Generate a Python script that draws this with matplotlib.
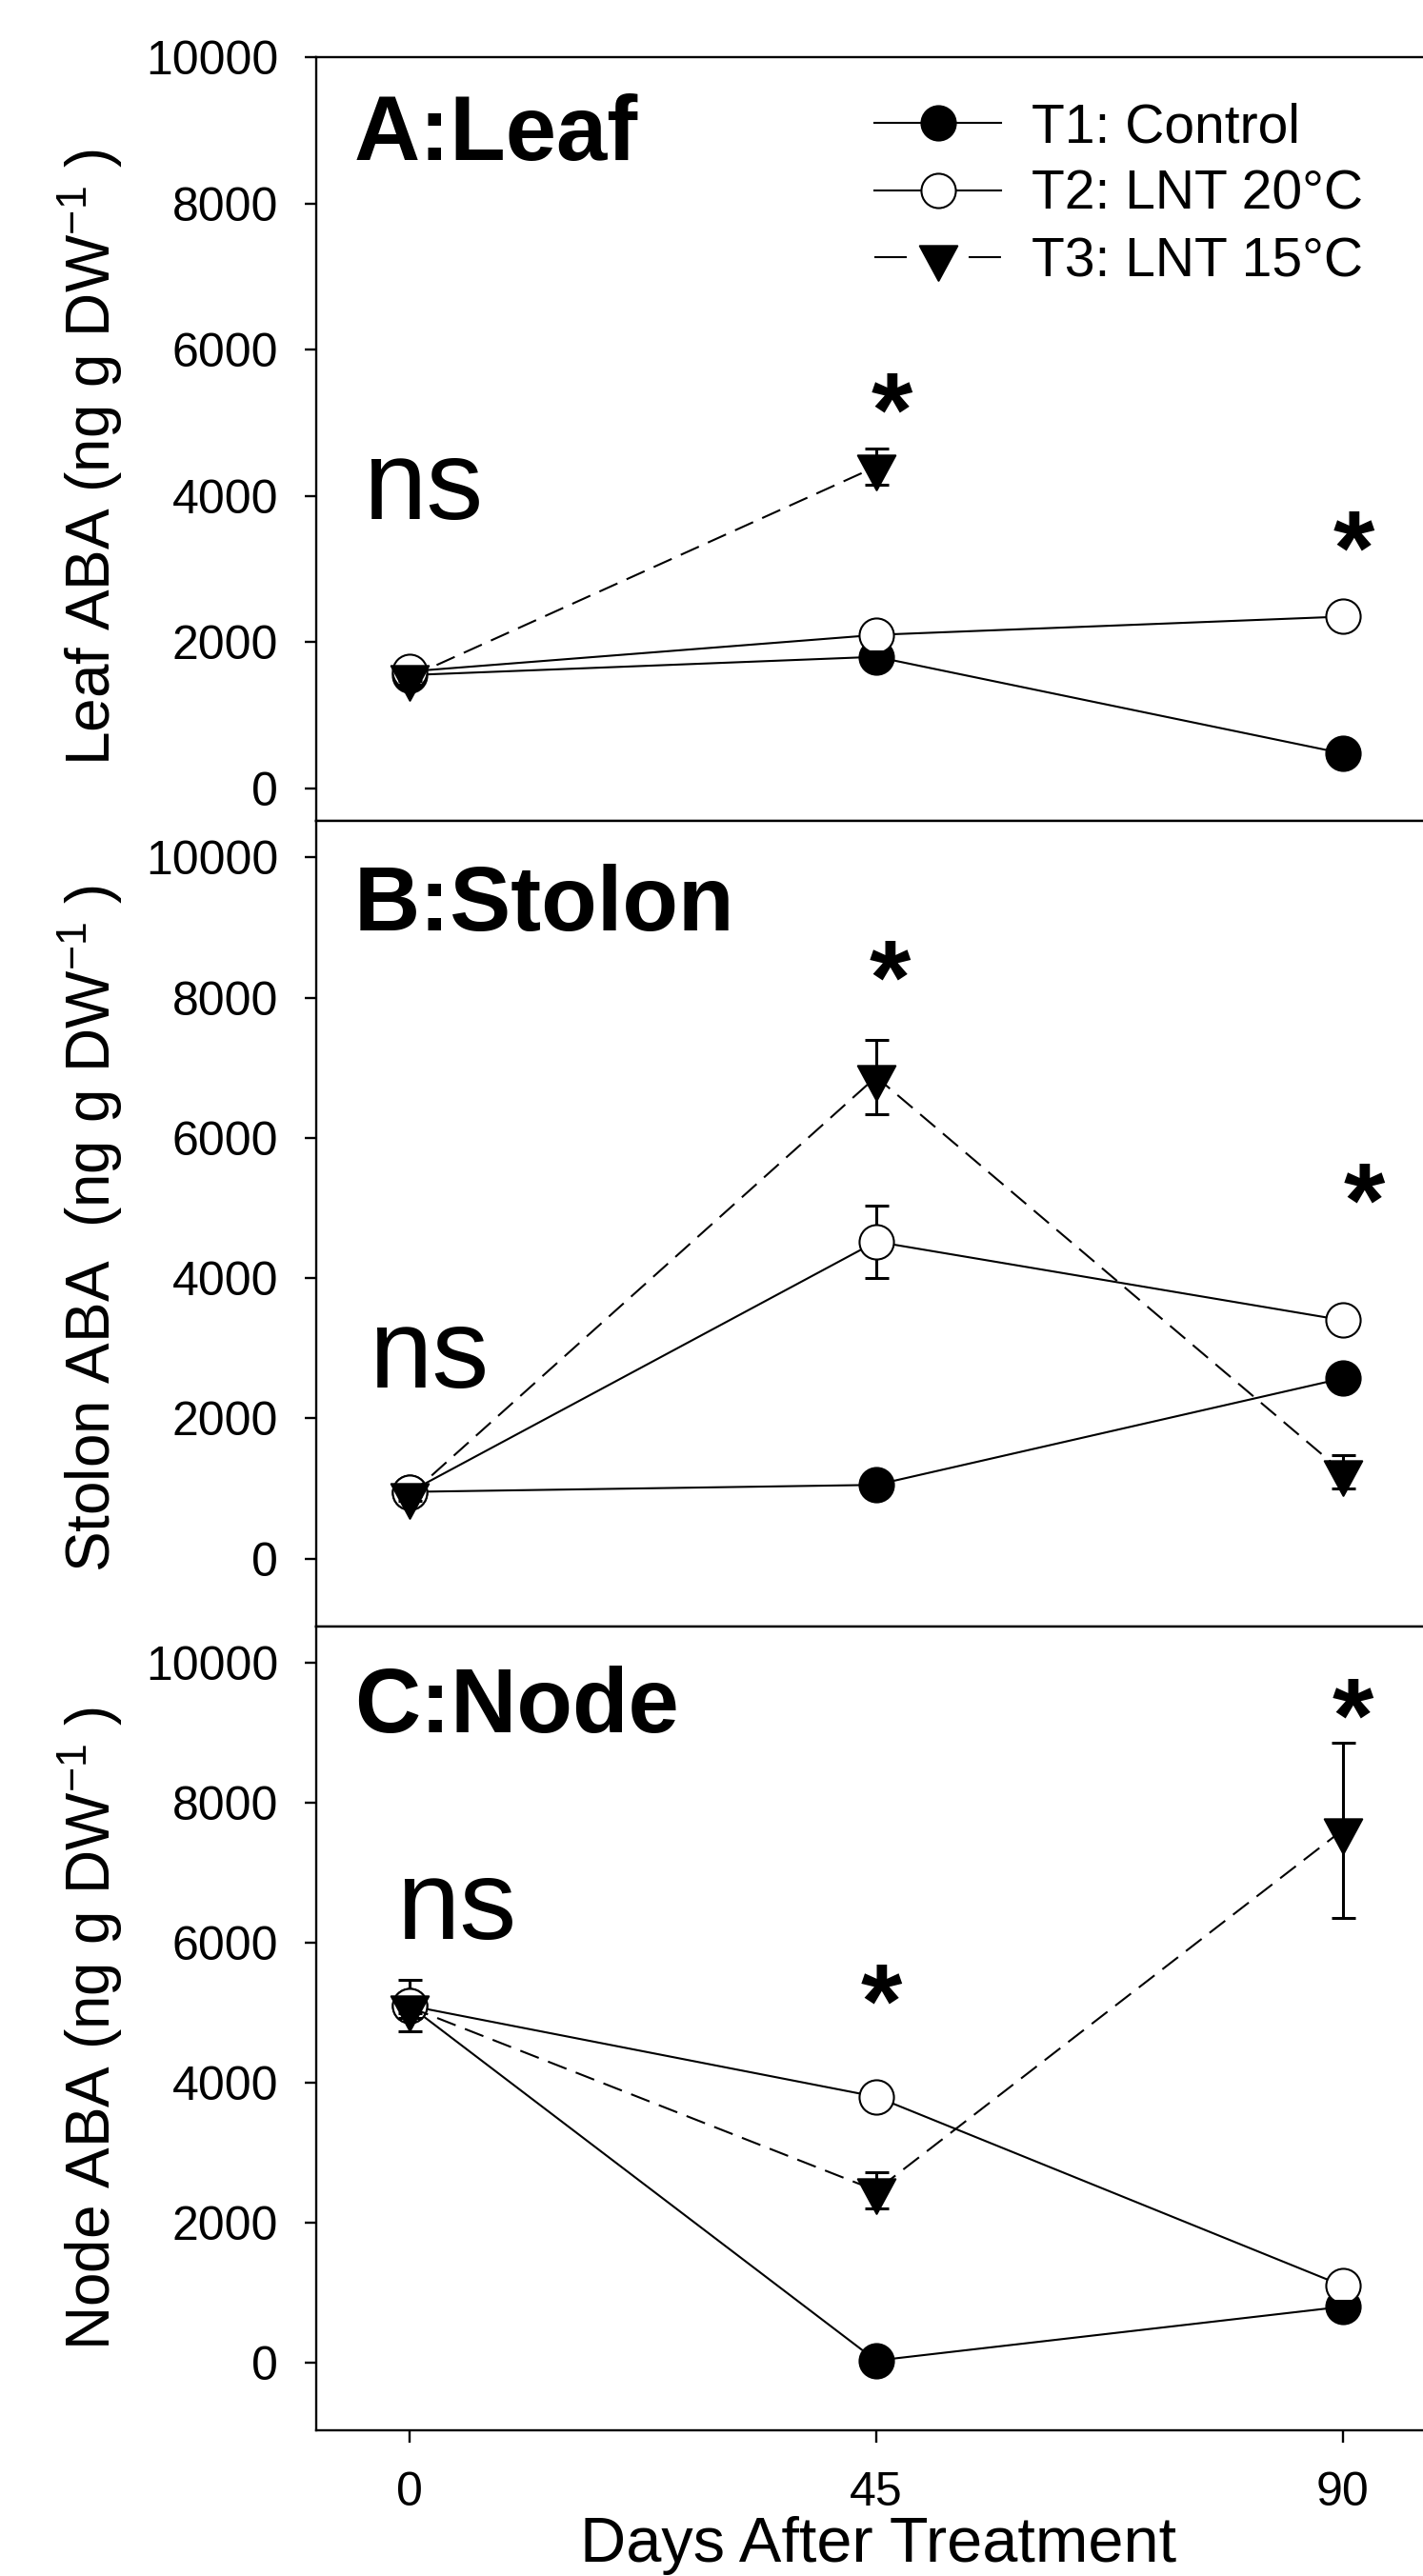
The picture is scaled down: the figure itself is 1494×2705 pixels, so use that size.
import numpy as np
import matplotlib
matplotlib.use("Agg")
import matplotlib.pyplot as plt
from matplotlib.lines import Line2D
from matplotlib.path import Path

plt.rcParams['font.family'] = ['Liberation Sans', 'DejaVu Sans']
plt.rcParams['mathtext.fontset'] = 'custom'
plt.rcParams['mathtext.rm'] = 'Liberation Sans'

# sampling days
days = [0, 45, 90]

# Leaf ABA (ng g DW-1), mean and SE
leaf_t1 = [1550, 1800, 480]
leaf_t1_se = [80, 80, 60]
leaf_t2 = [1600, 2100, 2350]
leaf_t2_se = [80, 100, 80]
leaf_t3_days = [0, 45]
leaf_t3 = [1520, 4400]
leaf_t3_se = [100, 250]

# Stolon ABA
stolon_t1 = [950, 1050, 2570]
stolon_t1_se = [60, 60, 80]
stolon_t2 = [950, 4520, 3400]
stolon_t2_se = [60, 520, 100]
stolon_t3 = [900, 6870, 1236]
stolon_t3_se = [80, 530, 240]

# Node ABA
node_t1 = [5100, 30, 800]
node_t1_se = [100, 50, 80]
node_t2 = [5100, 3800, 1100]
node_t2_se = [370, 100, 100]
node_t3 = [5080, 2460, 7610]
node_t3_se = [150, 260, 1250]

labels = ['T1: Control', 'T2: LNT 20\u00b0C', 'T3: LNT 15\u00b0C']
ylabels = ['Leaf ABA (ng g DW$\\mathregular{^{-1}}$ )',
           'Stolon ABA  (ng g DW$\\mathregular{^{-1}}$ )',
           'Node ABA (ng g DW$\\mathregular{^{-1}}$ )']
titles = ['A:Leaf', 'B:Stolon', 'C:Node']

# significance marks: (day, y of the star centre)
stars = [[(46.5, 5490), (91.1, 3600)],
         [(46.3, 8620), (92.1, 5440)],
         [(45.5, 5500), (91.0, 9580)]]
ns_pos = [(-4.5, 3680), (-3.9, 2440), (-1.3, 6048)]

# down triangle centred on its centroid, like SigmaPlot
tri_down = Path([(-1, 0.617), (1, 0.617), (0, -1.233), (-1, 0.617)],
                [Path.MOVETO, Path.LINETO, Path.LINETO, Path.CLOSEPOLY])

fig = plt.figure(figsize=(14.94, 27.05), dpi=100)

left = 0.2222
width = 0.7898
boxes = [[left, 0.68115, width, 0.29667],
         [left, 0.36858, width, 0.31257],
         [left, 0.05656, width, 0.31201]]
ylims = [(-450, 10000), (-971, 10516), (-966, 10517)]
title_y = [0.865, 0.864, 0.869]
ylabel_y = [0.476, 0.495, 0.5]

panels = [
    [(days, leaf_t1, leaf_t1_se), (days, leaf_t2, leaf_t2_se), (leaf_t3_days, leaf_t3, leaf_t3_se)],
    [(days, stolon_t1, stolon_t1_se), (days, stolon_t2, stolon_t2_se), (days, stolon_t3, stolon_t3_se)],
    [(days, node_t1, node_t1_se), (days, node_t2, node_t2_se), (days, node_t3, node_t3_se)],
]

styles = [dict(marker='o', ms=26, mfc='k', mec='k', ls='-'),
          dict(marker='o', ms=26, mfc='w', mec='k', ls='-'),
          dict(marker=tri_down, ms=35, mfc='k', mec='k', ls=(0, (10, 5)))]
err_z = [4, 2, 4]

lw = 1.5
for p in range(3):
    ax = fig.add_axes(boxes[p])
    for s in range(3):
        x, y, e = panels[p][s]
        ax.errorbar(x, y, yerr=e, fmt='none', ecolor='k', elinewidth=2.2,
                    capsize=9, capthick=2.2, zorder=err_z[s])
        ax.plot(x, y, color='k', lw=lw, mew=1.5, zorder=3, **styles[s])

    ax.set_xlim(-9.0, 99.4)
    ax.set_ylim(*ylims[p])
    ax.set_yticks([0, 2000, 4000, 6000, 8000, 10000])
    ax.spines['right'].set_visible(False)
    for sp in ['left', 'top', 'bottom']:
        ax.spines[sp].set_linewidth(1.7)
    ax.tick_params(axis='y', direction='out', length=8.6, width=1.7,
                   labelsize=36, pad=20)
    if p == 2:
        ax.set_xticks(days)
        ax.tick_params(axis='x', direction='out', length=9, width=1.7,
                       labelsize=36, pad=22)
        ax.set_xlabel('Days After Treatment', fontsize=48, va='top')
        ax.xaxis.set_label_coords(0.5, -0.107)
    else:
        ax.set_xticks([])

    ax.set_ylabel(ylabels[p], fontsize=46)
    ax.yaxis.set_label_coords(-0.170, ylabel_y[p])

    ax.text(0.034, title_y[p], titles[p], transform=ax.transAxes,
            fontsize=69, fontweight='bold', ha='left', va='baseline')
    ax.text(ns_pos[p][0], ns_pos[p][1], 'ns', fontsize=86,
            ha='left', va='baseline')
    for sx, sy in stars[p]:
        ax.annotate('*', (sx, sy), xytext=(0, -45), textcoords='offset points',
                    fontsize=80, fontweight='bold', ha='center', va='baseline')

    if p == 0:
        handles = [Line2D([], [], color='k', lw=lw, mew=1.5, **styles[0]),
                   Line2D([], [], color='k', lw=lw, mew=1.5, **styles[1]),
                   Line2D([], [], color='k', lw=lw, mew=1.5,
                          **dict(styles[2], ls=(0, (16.3, 31.2))))]
        ax.legend(handles, labels, loc='upper left', bbox_to_anchor=(0.4966, 0.941),
                  frameon=False, fontsize=41, borderpad=0, borderaxespad=0,
                  handlelength=2.34, handletextpad=0.56, labelspacing=0.29,
                  numpoints=1)

fig.savefig('out.png', dpi=100)
